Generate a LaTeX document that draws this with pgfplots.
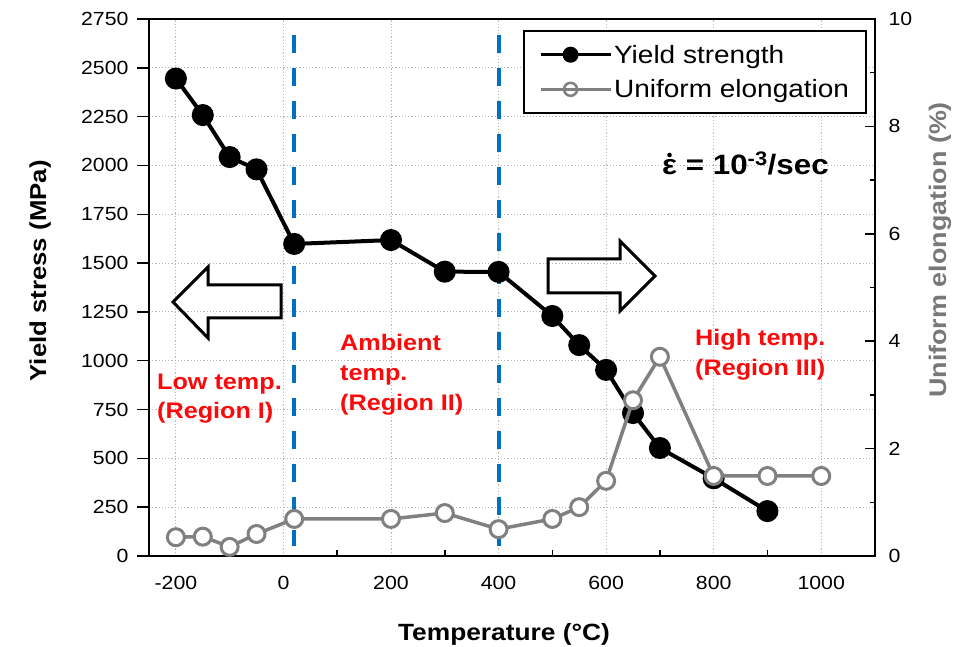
\documentclass[border=0pt]{standalone}
\usepackage{pgfplots}
\pgfplotsset{compat=1.18}
\usepackage{fontspec}
\setmainfont{Liberation Sans}[FakeStretch=1.12]
\definecolor{elg}{RGB}{128,128,128}
\definecolor{lblgray}{RGB}{120,120,120}
\definecolor{vblue}{RGB}{0,112,192}
\definecolor{gridc}{RGB}{185,185,185}
\definecolor{regred}{RGB}{250,10,10}
\begin{document}
\begin{tikzpicture}[x=1pt,y=1pt]
\useasboundingbox (-149,-90) rectangle (807,556);
\begin{axis}[
  at={(0,0)}, anchor=south west,
  scale only axis, width=726pt, height=537pt,
  xmin=-250, xmax=1100, ymin=0, ymax=2750,
  xtick={-200,0,...,1000}, minor xtick={-100,100,...,1100},
  ytick={0,250,...,2750},
  xtick pos=bottom, ytick pos=left,
  every major x tick/.append style={draw=none},
  xtick align=inside, ytick align=outside,
  major tick length=12pt, minor tick length=6pt,
  tick style={black, line width=1.5pt},
  axis line style={line width=2pt},
  grid=major,
  major grid style={gridc, line width=1pt, dash pattern=on 1.2pt off 2pt},
  scaled ticks=false,
  /pgf/number format/1000 sep={},
  /pgf/number format/assume math mode=true,
  ticklabel style={font=\fontsize{19}{21}\selectfont},
  xticklabel style={yshift=-17pt},
  yticklabel style={xshift=-5pt},
  xlabel={\bfseries Temperature (°C)},
  xlabel style={at={(axis description cs:0.489,-0.1565)}, anchor=base, font=\fontsize{23.5}{26}\selectfont},
  ylabel={\bfseries Yield stress (MPa)},
  ylabel style={at={(axis description cs:-0.150,0.531)}, anchor=center, font=\fontsize{23}{26}\selectfont},
  clip=false,
]
\addplot[vblue, line width=4pt, dash pattern=on 18pt off 15pt, forget plot] coordinates {(20,2670) (20,50)};
\addplot[vblue, line width=4pt, dash pattern=on 18pt off 15pt, forget plot] coordinates {(400,2670) (400,50)};
\addplot[black, line width=4pt, mark=*, mark size=9pt, mark options={solid, fill=black}] coordinates {
(-200,2445) (-150,2258) (-100,2043) (-50,1980) (20,1598) (200,1618) (300,1456) (400,1455)
(500,1229) (550,1080) (600,953) (650,732) (700,553) (800,398) (900,230)
};
\end{axis}
\begin{axis}[
  at={(0,0)}, anchor=south west,
  scale only axis, width=726pt, height=537pt,
  xmin=-250, xmax=1100, ymin=0, ymax=10,
  axis x line=none, axis y line*=right,
  ytick={0,2,...,10}, minor ytick={1,3,...,9},
  tick align=inside, major tick length=10pt, minor tick length=5pt,
  tick style={black, line width=1.5pt},
  axis line style={line width=2pt},
  /pgf/number format/assume math mode=true,
  ticklabel style={font=\fontsize{19}{21}\selectfont},
  yticklabel style={xshift=10pt},
  ylabel={\bfseries Uniform elongation (\%)},
  ylabel style={at={(axis description cs:1.0895,0.57)}, anchor=center, rotate=0, text=lblgray, font=\fontsize{24}{27}\selectfont},
  legend style={at={(rel axis cs:0.989,0.9795)}, anchor=north east, draw=black, line width=1.8pt,
    font=\fontsize{25}{29}\selectfont, row sep=11pt, inner xsep=15pt, inner ysep=12pt, fill=white},
  legend cell align=left,
  legend image code/.code={\draw[mark repeat=2,mark phase=2,#1] plot coordinates {(0pt,0pt) (30pt,0pt) (60pt,0pt)}; \path (0pt,0pt) -- (70pt,0pt);},
  clip=false,
]
\addlegendimage{black, line width=3pt, mark=*, mark size=6.5pt, mark options={fill=black}}
\addlegendentry{Yield strength}
\addlegendimage{elg, line width=3pt, mark=*, mark size=6.5pt, mark options={fill=white, draw=elg, line width=2.5pt}}
\addlegendentry{Uniform elongation}
\addplot[elg, line width=3.5pt, mark=*, mark size=8.5pt, mark options={fill=white, draw=elg, line width=3pt}, forget plot] coordinates {
(-200,0.35) (-150,0.36) (-100,0.17) (-50,0.41) (20,0.69) (200,0.69) (300,0.80) (400,0.50)
(500,0.69) (550,0.91) (600,1.40) (650,2.90) (700,3.71) (800,1.49) (900,1.49) (1000,1.49)
};
\end{axis}
% block arrows
\draw[black, line width=3pt, line join=miter] (24,254) -- (59,289) -- (59,271) -- (132,271) -- (132,238) -- (59,238) -- (59,218) -- cycle;
\draw[black, line width=3pt, line join=miter] (399,297) -- (471,297) -- (471,315) -- (506,280) -- (471,245) -- (471,263) -- (399,263) -- cycle;
% region labels
\begin{scope}[every node/.style={anchor=base west, inner sep=0pt, text=regred, font=\fontsize{22.5}{26}\selectfont\bfseries}]
\node at (8,167) {Low temp.};
\node at (8,138) {(Region I)};
\node at (191,206) {Ambient};
\node at (191,176) {temp.};
\node at (191,146) {(Region II)};
\node at (546,211) {High temp.};
\node at (546,181) {(Region III)};
\end{scope}
\node[anchor=base west, inner sep=0pt, font=\fontsize{28}{32}\selectfont\bfseries] at (513,381) {ε = 10\textsuperscript{-3}/sec};
\fill[black] (520.5,401) circle (2.3pt);
\end{tikzpicture}
\end{document}
